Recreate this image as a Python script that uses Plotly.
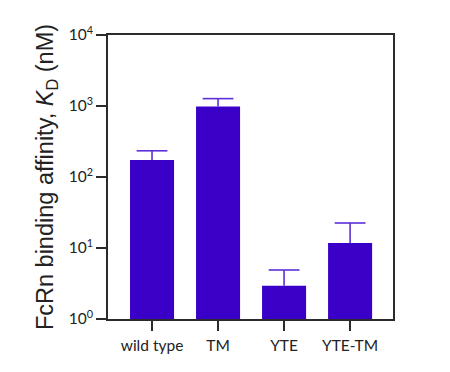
import plotly.graph_objects as go

categories = ["wild type", "TM", "YTE", "YTE-TM"]
kd_values = [174, 980, 2.95, 11.8]
err_upper = [60, 290, 1.95, 10.7]

bar_color = "#3a00c8"
err_color = "#5b2fd8"
axis_color = "#2b2b2b"

cap_y = [v + e for v, e in zip(kd_values, err_upper)]

fig = go.Figure()
fig.add_trace(
    go.Bar(
        x=categories,
        y=kd_values,
        width=0.667,
        marker=dict(color=bar_color, line=dict(width=0)),
        error_y=dict(
            type="data",
            symmetric=False,
            array=err_upper,
            arrayminus=[0] * len(err_upper),
            color=err_color,
            thickness=1.6,
            width=0,
        ),
    )
)
fig.add_trace(
    go.Scatter(
        x=categories,
        y=cap_y,
        mode="markers",
        marker=dict(symbol="line-ew", size=22, line=dict(color=err_color, width=1.6)),
        hoverinfo="skip",
    )
)

fig.update_layout(
    width=450,
    height=372,
    margin=dict(l=100, r=65, t=27, b=61),
    plot_bgcolor="white",
    paper_bgcolor="white",
    showlegend=False,
    font=dict(family="Lato, Noto Sans, sans-serif", color="#222222"),
)

fig.update_xaxes(
    type="category",
    range=[-0.667, 3.65],
    showline=True,
    linecolor=axis_color,
    linewidth=1.5,
    mirror=True,
    ticks="outside",
    ticklen=10,
    tickwidth=1.5,
    tickcolor=axis_color,
    tickfont=dict(size=15.5),
    ticklabelstandoff=2,
    showgrid=False,
)

fig.update_yaxes(
    type="log",
    range=[0, 4],
    tickvals=[1, 10, 100, 1000, 10000],
    ticktext=["10<sup>0</sup>", "10<sup>1</sup>", "10<sup>2</sup>", "10<sup>3</sup>", "10<sup>4</sup>"],
    showline=True,
    linecolor=axis_color,
    linewidth=1.5,
    mirror=True,
    ticks="outside",
    ticklen=10,
    tickwidth=1.5,
    tickcolor=axis_color,
    tickfont=dict(size=15.5),
    showgrid=False,
    zeroline=False,
    title=dict(
        text="FcRn binding affinity, <i>K</i><sub>D</sub> (nM)",
        font=dict(size=23.5, color="#222222", family="Liberation Sans, Arial, sans-serif"),
        standoff=9,
    ),
)

fig.write_html("out.html")
